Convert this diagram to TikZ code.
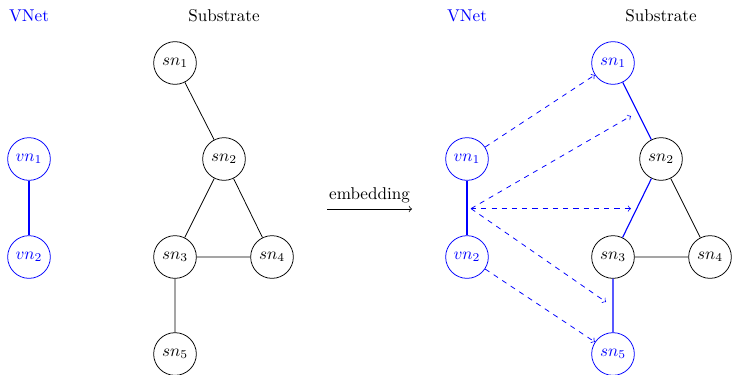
\documentclass[tikz,border=0pt]{standalone}
\begin{document}
\begin{tikzpicture}[x=0.02058cm,y=-0.02058cm,line width=0.45pt,
  nd/.style={circle,draw,minimum size=25pt,inner sep=0pt},
  bnd/.style={nd,blue},
  bedge/.style={blue,line width=0.65pt},
  emb/.style={blue,dashed,->}]
\useasboundingbox (0,0) rectangle (732,374);
% left
\node[blue] (lvnet) at (29,16) {VNet};
\node (lsub) at (224,16) {Substrate};
\node[bnd] (lv1) at (29,159) {$vn_1$};
\node[bnd] (lv2) at (29,257) {$vn_2$};
\node[nd] (ls1) at (175,63) {$sn_1$};
\node[nd] (ls2) at (224,159) {$sn_2$};
\node[nd] (ls3) at (175,257) {$sn_3$};
\node[nd] (ls4) at (272,257) {$sn_4$};
\node[nd] (ls5) at (175,354) {$sn_5$};
\draw[bedge] (lv1) -- (lv2);
\draw (ls1) -- (ls2) (ls2) -- (ls3) (ls2) -- (ls4) (ls3) -- (ls4) (ls3) -- (ls5);
% middle
\coordinate (ea) at (327,209);
\coordinate (eb) at (412,209);
\draw[->] (ea) -- node[above] (elab) {embedding} (eb);
% right
\node[blue] (rvnet) at (467,16) {VNet};
\node (rsub) at (661,16) {Substrate};
\node[bnd] (rv1) at (467,159) {$vn_1$};
\node[bnd] (rv2) at (467,257) {$vn_2$};
\node[bnd] (rs1) at (613,63) {$sn_1$};
\node[nd] (rs2) at (661,159) {$sn_2$};
\node[nd] (rs3) at (613,257) {$sn_3$};
\node[nd] (rs4) at (710,257) {$sn_4$};
\node[bnd] (rs5) at (613,354) {$sn_5$};
\draw[blue,line width=1pt] (rv1) -- (rv2);
\draw[bedge] (rs1) -- (rs2) (rs2) -- (rs3) (rs3) -- (rs5);
\draw (rs2) -- (rs4) (rs3) -- (rs4);
\coordinate (src) at (471,208.6);
\coordinate (m12) at (631,116);
\coordinate (m23) at (631,208.6);
\coordinate (m35) at (606,302);
\draw[emb] (rv1) -- (rs1);
\draw[emb] (src) -- (m12);
\draw[emb] (src) -- (m23);
\draw[emb] (src) -- (m35);
\draw[emb] (rv2) -- (rs5);
\end{tikzpicture}
\end{document}
